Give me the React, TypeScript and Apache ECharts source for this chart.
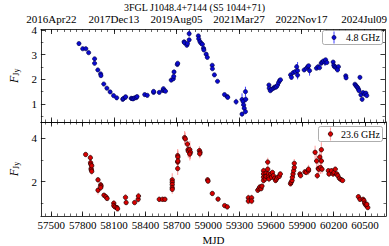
import React, { useEffect, useRef } from "react";
import * as echarts from "echarts";

const TITLE = "3FGL J1048.4+7144 (S5 1044+71)";
const X_MIN = 57400;
const X_MAX = 60700;
const mjdTicks = [57500, 57800, 58100, 58400, 58700, 59000, 59300, 59600, 59900, 60200, 60500];
const dateTicks = [57500, 58100, 58700, 59300, 59900, 60500];
const dateLabels = ["2016Apr22", "2017Dec13", "2019Aug05", "2021Mar27", "2022Nov17", "2024Jul09"];
const minorMjdTicks: number[] = [];
for (let v = 57440; v <= 60680; v += 60) minorMjdTicks.push(v);

// 4.8 GHz: [MJD, flux, err]
const mjd48 = [57765, 57801, 57831, 57858, 57915, 57915, 57946, 57973, 57976, 58003, 58033, 58064, 58097, 58127, 58185, 58190, 58209, 58213, 58266, 58275, 58285, 58300, 58315, 58322, 58396, 58420, 58481, 58481, 58535, 58570, 58575, 58583, 58595, 58650, 58670, 58674, 58677, 58708, 58712, 58773, 58778, 58800, 58806, 58822, 58822, 58910, 58914, 58925, 58937, 58949, 58960, 58963, 58985, 58996, 59043, 59045, 59064, 59094, 59161, 59187, 59192, 59272, 59329, 59329, 59340, 59345, 59350, 59362, 59365, 59362, 59587, 59590, 59600, 59615, 59630, 59640, 59650, 59660, 59670, 59680, 59690, 59698, 59795, 59803, 59820, 59838, 59853, 59862, 59862, 59925, 59947, 59959, 59968, 59977, 60043, 60058, 60073, 60088, 60097, 60110, 60125, 60131, 60143, 60203, 60209, 60215, 60227, 60239, 60254, 60245, 60324, 60327, 60412, 60421, 60430, 60439, 60445, 60451, 60460, 60469, 60481, 60490, 60505, 60517, 60526];
const flux48 = [3.45, 3.24, 3.24, 3.08, 2.83, 2.65, 2.38, 2.22, 2.15, 1.81, 1.64, 1.49, 1.34, 1.25, 1.19, 1.22, 1.27, 1.29, 1.23, 1.22, 1.21, 1.25, 1.26, 1.30, 1.38, 1.35, 1.47, 1.51, 1.47, 1.55, 1.62, 1.55, 1.52, 1.97, 2.02, 2.12, 2.30, 2.60, 2.65, 3.52, 3.48, 3.38, 3.45, 3.60, 3.85, 3.76, 3.64, 3.53, 3.46, 3.42, 3.26, 3.19, 3.02, 2.89, 2.57, 2.43, 2.18, 1.92, 1.38, 1.30, 1.27, 1.09, 1.18, 0.59, 1.10, 0.96, 0.83, 0.69, 1.19, 1.50, 1.77, 1.64, 1.54, 1.60, 1.64, 1.68, 1.68, 1.70, 1.77, 1.87, 1.95, 1.98, 2.18, 2.08, 2.27, 2.31, 2.51, 2.35, 2.17, 2.38, 2.45, 2.51, 2.55, 2.35, 2.45, 2.51, 2.47, 2.65, 2.70, 2.74, 2.69, 2.79, 2.68, 2.70, 2.57, 2.51, 2.49, 2.45, 2.51, 2.38, 2.14, 2.06, 1.80, 1.75, 1.70, 1.66, 1.60, 1.54, 2.08, 1.37, 1.19, 1.46, 1.40, 1.44, 1.34];
const err48 = [0.03, 0.03, 0.03, 0.03, 0.04, 0.04, 0.03, 0.03, 0.03, 0.03, 0.03, 0.03, 0.03, 0.03, 0.03, 0.03, 0.03, 0.03, 0.03, 0.03, 0.03, 0.03, 0.03, 0.03, 0.03, 0.03, 0.03, 0.03, 0.03, 0.03, 0.03, 0.03, 0.03, 0.03, 0.03, 0.03, 0.03, 0.04, 0.04, 0.05, 0.05, 0.05, 0.05, 0.05, 0.12, 0.05, 0.05, 0.05, 0.04, 0.04, 0.04, 0.04, 0.04, 0.04, 0.05, 0.05, 0.04, 0.04, 0.04, 0.04, 0.04, 0.12, 0.25, 0.08, 0.15, 0.12, 0.12, 0.10, 0.12, 0.20, 0.05, 0.05, 0.05, 0.04, 0.04, 0.04, 0.04, 0.04, 0.04, 0.04, 0.04, 0.04, 0.08, 0.08, 0.06, 0.06, 0.10, 0.35, 0.10, 0.05, 0.05, 0.05, 0.05, 0.20, 0.05, 0.05, 0.05, 0.05, 0.05, 0.05, 0.15, 0.06, 0.05, 0.05, 0.05, 0.05, 0.05, 0.05, 0.05, 0.05, 0.04, 0.04, 0.04, 0.04, 0.04, 0.04, 0.04, 0.04, 0.04, 0.04, 0.06, 0.04, 0.04, 0.04, 0.04];

// 23.6 GHz
const mjd236 = [57828, 57873, 57875, 57877, 57880, 57882, 57886, 57886, 57946, 57946, 57972, 57975, 57972, 58003, 58021, 58033, 58097, 58097, 58108, 58127, 58133, 58209, 58215, 58296, 58330, 58333, 58532, 58563, 58586, 58656, 58656, 58656, 58656, 58656, 58708, 58708, 58708, 58710, 58710, 58774, 58780, 58801, 58807, 58810, 58824, 58830, 58824, 58916, 58922, 58919, 58994, 58998, 59039, 59094, 59157, 59182, 59384, 59384, 59415, 59415, 59474, 59485, 59494, 59505, 59514, 59529, 59529, 59529, 59529, 59545, 59545, 59553, 59553, 59569, 59569, 59575, 59575, 59581, 59599, 59605, 59614, 59623, 59635, 59644, 59653, 59665, 59680, 59689, 59787, 59793, 59802, 59805, 59811, 59817, 59823, 59823, 59877, 59883, 59925, 59937, 59959, 59959, 60022, 60037, 60043, 60052, 60058, 60067, 60073, 60082, 60082, 60088, 60149, 60155, 60179, 60194, 60203, 60215, 60230, 60239, 60254, 60270, 60285, 60436, 60451, 60481, 60490, 60496, 60505, 60511, 60526, 60517];
const flux236 = [3.25, 3.10, 2.87, 2.80, 2.60, 2.54, 2.47, 2.73, 2.08, 1.60, 1.85, 1.79, 1.72, 1.37, 1.30, 1.22, 1.00, 0.89, 0.83, 0.80, 0.74, 1.27, 1.03, 1.03, 1.18, 1.33, 1.18, 1.18, 1.18, 2.08, 1.97, 1.86, 1.72, 1.64, 2.60, 2.90, 3.20, 3.13, 2.95, 4.03, 3.97, 3.73, 3.47, 3.40, 3.47, 3.35, 3.27, 3.43, 3.35, 3.28, 2.08, 2.02, 1.45, 1.19, 0.89, 0.83, 1.25, 1.10, 1.25, 1.10, 1.60, 1.67, 1.75, 1.67, 1.79, 2.50, 2.35, 2.20, 2.05, 2.27, 2.12, 2.39, 2.24, 2.90, 2.57, 2.35, 2.20, 2.12, 2.35, 2.20, 2.42, 2.27, 2.15, 2.05, 2.12, 2.20, 2.24, 2.35, 1.90, 1.97, 2.05, 2.20, 2.35, 2.50, 2.84, 2.65, 2.35, 2.27, 2.45, 2.42, 2.50, 2.57, 3.35, 2.95, 2.27, 2.60, 2.57, 3.13, 2.65, 3.47, 2.95, 2.57, 2.50, 2.35, 2.50, 2.35, 2.42, 2.57, 2.35, 2.27, 2.15, 2.09, 2.05, 1.30, 1.18, 1.18, 1.12, 1.00, 0.95, 0.89, 0.80, 0.95];
const err236 = [0.08, 0.15, 0.15, 0.15, 0.15, 0.15, 0.15, 0.15, 0.12, 0.20, 0.15, 0.15, 0.15, 0.10, 0.08, 0.08, 0.15, 0.15, 0.10, 0.10, 0.10, 0.15, 0.10, 0.10, 0.15, 0.15, 0.12, 0.12, 0.12, 0.30, 0.20, 0.20, 0.20, 0.20, 0.30, 0.35, 0.30, 0.30, 0.30, 0.30, 0.30, 0.30, 0.30, 0.30, 0.40, 0.30, 0.30, 0.20, 0.20, 0.20, 0.12, 0.10, 0.08, 0.08, 0.06, 0.05, 0.15, 0.15, 0.15, 0.15, 0.10, 0.10, 0.10, 0.10, 0.10, 0.15, 0.15, 0.15, 0.15, 0.15, 0.15, 0.15, 0.15, 0.20, 0.15, 0.15, 0.15, 0.15, 0.15, 0.12, 0.12, 0.12, 0.12, 0.12, 0.12, 0.12, 0.12, 0.12, 0.12, 0.12, 0.12, 0.12, 0.15, 0.15, 0.20, 0.20, 0.10, 0.10, 0.10, 0.10, 0.20, 0.20, 0.30, 0.35, 0.15, 0.25, 0.20, 0.30, 0.30, 0.35, 0.30, 0.20, 0.12, 0.12, 0.12, 0.12, 0.12, 0.12, 0.10, 0.10, 0.08, 0.06, 0.06, 0.12, 0.10, 0.10, 0.10, 0.10, 0.10, 0.10, 0.08, 0.08];

const FONT = "Liberation Serif";

function pack(x: number[], y: number[], e: number[]) {
  return x.map((v, i) => [v, y[i], e[i]]);
}

function xAxes(grid: number, isBottom: boolean) {
  const base = {
    type: "value", gridIndex: grid, min: X_MIN, max: X_MAX,
    splitLine: { show: false },
    axisLine: { show: true, onZero: false, lineStyle: { color: "#000", width: 0.8 } },
  };
  return [
    {
      ...base, position: "bottom",
      axisTick: { show: true, inside: true, length: 4.5, customValues: isBottom ? mjdTicks : dateTicks, lineStyle: { color: "#000", width: 0.8 } },
      axisLabel: {
        show: isBottom, customValues: mjdTicks, fontFamily: FONT, fontSize: 11, color: "#000", margin: 3,
        formatter: (v: number) => String(Math.round(v)),
      },
      name: isBottom ? "MJD" : "", nameLocation: "middle", nameGap: 18,
      nameTextStyle: { fontFamily: FONT, fontSize: 11, color: "#000" },
    },
    {
      ...base, position: "top",
      axisTick: { show: true, inside: true, length: 4.5, customValues: isBottom ? mjdTicks : dateTicks, lineStyle: { color: "#000", width: 0.8 } },
      axisLabel: {
        show: !isBottom, customValues: dateTicks, fontFamily: FONT, fontSize: 11, color: "#000", margin: 5,
        formatter: (v: number) => { const i = dateTicks.indexOf(Math.round(v)); return i >= 0 ? dateLabels[i] : ""; },
      },
    },
    {
      ...base, position: "bottom", axisLine: { show: false },
      axisTick: { show: true, inside: true, length: 2.5, customValues: minorMjdTicks, lineStyle: { color: "#000", width: 0.6 } },
      axisLabel: { show: false },
    },
    {
      ...base, position: "top", axisLine: { show: false },
      axisTick: { show: true, inside: true, length: 2.5, customValues: minorMjdTicks, lineStyle: { color: "#000", width: 0.6 } },
      axisLabel: { show: false },
    },
  ];
}

function yAxes(grid: number, min: number, max: number, labels: number[], majors: number[], minors: number[], nameGap: number) {
  const base = {
    type: "value", gridIndex: grid, min, max,
    splitLine: { show: false },
    axisLine: { show: true, onZero: false, lineStyle: { color: "#000", width: 0.8 } },
  };
  return [
    {
      ...base, position: "left",
      axisTick: { show: true, inside: true, length: 4.5, customValues: majors, lineStyle: { color: "#000", width: 0.8 } },
      axisLabel: { show: true, customValues: labels, fontFamily: FONT, fontSize: 11, color: "#000", margin: 4 },
      name: "{f|F}{s|Jy}", nameLocation: "middle", nameRotate: 90, nameGap,
      nameTextStyle: {
        rich: {
          f: { fontFamily: FONT, fontStyle: "italic", fontSize: 12, color: "#000" },
          s: { fontFamily: FONT, fontSize: 8, color: "#000", padding: [5, 0, 0, 0] },
        },
      },
    },
    {
      ...base, position: "right",
      axisTick: { show: true, inside: true, length: 4.5, customValues: majors, lineStyle: { color: "#000", width: 0.8 } },
      axisLabel: { show: false },
    },
    {
      ...base, position: "left", axisLine: { show: false },
      axisTick: { show: true, inside: true, length: 2.5, customValues: minors, lineStyle: { color: "#000", width: 0.6 } },
      axisLabel: { show: false },
    },
    {
      ...base, position: "right", axisLine: { show: false },
      axisTick: { show: true, inside: true, length: 2.5, customValues: minors, lineStyle: { color: "#000", width: 0.6 } },
      axisLabel: { show: false },
    },
  ];
}

function errSeries(xi: number, yi: number, data: number[][], color: string, width: number) {
  return {
    type: "custom", xAxisIndex: xi, yAxisIndex: yi, data, clip: true, z: 2,
    encode: { x: 0, y: 1 },
    renderItem: (_p: any, api: any) => {
      const x = api.value(0), y = api.value(1), e = api.value(2);
      const a = api.coord([x, y - e]);
      const b = api.coord([x, y + e]);
      return { type: "line", shape: { x1: a[0], y1: a[1], x2: b[0], y2: b[1] }, style: { stroke: color, lineWidth: width } };
    },
  };
}

export default function App() {
  const ref = useRef<HTMLDivElement>(null);
  useEffect(() => {
    if (!ref.current) return;
    const chart = echarts.init(ref.current, undefined, { renderer: "svg" });
    const d48 = pack(mjd48, flux48, err48);
    const d236 = pack(mjd236, flux236, err236);
    const blue = "#0a0ad0";
    const navy = "#00003c";
    const red = "#d80000";
    const dark = "#1a0000";
    const errBlue = "#2a2aff";
    const pink = "rgba(255,80,80,0.5)";
    chart.setOption({
      animation: false,
      title: {
        text: TITLE, left: "center", top: -3,
        textStyle: { fontFamily: FONT, fontSize: 10, fontWeight: "normal", color: "#000" },
      },
      grid: [
        { left: 24, right: 3, top: 29.5, height: 92.5 },
        { left: 24, right: 3, top: 122, bottom: 28 },
      ],
      xAxis: [...xAxes(0, false), ...xAxes(1, true)],
      yAxis: [
        ...yAxes(0, 0.27, 4.02, [1, 2, 3, 4], [1, 2, 3, 4], [0.5, 1.5, 2.5, 3.5], 11),
        ...yAxes(1, 0.41, 4.75, [2, 4], [2, 4], [1, 3], 13),
      ],
      series: [
        errSeries(0, 0, d48, errBlue, 0.9),
        {
          type: "scatter", xAxisIndex: 0, yAxisIndex: 0, data: d48, symbolSize: 4.2, z: 3,
          itemStyle: { color: blue, borderColor: navy, borderWidth: 0.6, opacity: 1 },
          encode: { x: 0, y: 1 },
        },
        errSeries(4, 4, d236, pink, 1.1),
        {
          type: "scatter", xAxisIndex: 4, yAxisIndex: 4, data: d236, symbolSize: 4.4, z: 3,
          itemStyle: { color: red, borderColor: dark, borderWidth: 0.7, opacity: 1 },
          encode: { x: 0, y: 1 },
        },
      ],
      graphic: [
        { type: "rect", z: 100, shape: { x: 322.5, y: 30.5, width: 60, height: 14, r: 2 }, style: { fill: "#fff", stroke: "#999", lineWidth: 0.8 } },
        { type: "line", z: 101, shape: { x1: 334, y1: 31.5, x2: 334, y2: 43.5 }, style: { stroke: errBlue, lineWidth: 0.9 } },
        { type: "circle", z: 102, shape: { cx: 334, cy: 37.5, r: 2.1 }, style: { fill: blue, stroke: navy, lineWidth: 0.6 } },
        { type: "text", z: 102, style: { x: 380, y: 37.5, text: "4.8 GHz", align: "right", verticalAlign: "middle", font: `10px "${FONT}"`, fill: "#000" } },
        { type: "rect", z: 100, shape: { x: 318.5, y: 126.5, width: 64, height: 15, r: 2 }, style: { fill: "#fff", stroke: "#999", lineWidth: 0.8 } },
        { type: "line", z: 101, shape: { x1: 330.5, y1: 127.5, x2: 330.5, y2: 140.5 }, style: { stroke: pink, lineWidth: 1.1 } },
        { type: "circle", z: 102, shape: { cx: 330.5, cy: 134, r: 2.2 }, style: { fill: red, stroke: dark, lineWidth: 0.7 } },
        { type: "text", z: 102, style: { x: 380, y: 134, text: "23.6 GHz", align: "right", verticalAlign: "middle", font: `10px "${FONT}"`, fill: "#000" } },
      ],
    });
    return () => chart.dispose();
  }, []);
  return <div ref={ref} style={{ position: "absolute", left: 0, top: 0, width: 389, height: 246 }} />;
}
